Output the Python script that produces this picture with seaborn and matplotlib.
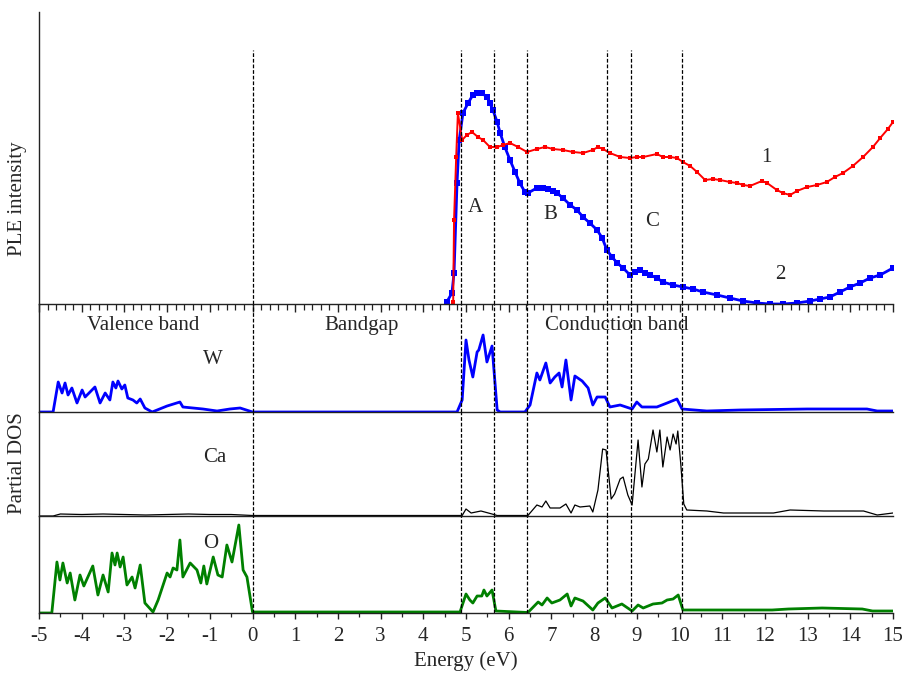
import numpy as np
import matplotlib
matplotlib.use('Agg')
import matplotlib.pyplot as plt
import seaborn as sns
from matplotlib.ticker import MultipleLocator

sns.set_style("ticks")
plt.rcParams['font.family'] = ['Liberation Serif', 'DejaVu Serif']
plt.rcParams['axes.unicode_minus'] = False

# PLE spectra (arb. units)
ple1_e = [4.70, 4.72, 4.77, 4.81, 4.91, 5.02, 5.14, 5.28, 5.40, 5.56, 5.73, 5.87, 6.03,
          6.22, 6.43, 6.66, 6.85, 7.04, 7.27, 7.51, 7.74, 7.97, 8.09, 8.21, 8.37, 8.61,
          8.84, 9.00, 9.15, 9.47, 9.61, 9.78, 9.94, 10.08, 10.25, 10.41, 10.60, 10.78,
          10.95, 11.18, 11.35, 11.49, 11.65, 11.93, 12.05, 12.28, 12.42, 12.59, 12.75,
          12.99, 13.22, 13.45, 13.64, 13.83, 14.06, 14.30, 14.53, 14.70, 14.88, 15.0]
ple1_i = [2, 84, 147, 191, 164, 169, 172, 167, 164, 157, 157, 159, 161,
          157, 152, 155, 157, 155, 154, 152, 151, 154, 157, 155, 151, 147,
          146, 147, 147, 150, 147, 147, 146, 142, 138, 132, 124, 125,
          124, 122, 121, 119, 118, 123, 121, 114, 111, 109, 113,
          117, 119, 122, 127, 131, 138, 147, 157, 166, 175, 182]
ple2_e = [4.55, 4.67, 4.72, 4.79, 4.84, 4.93, 5.05, 5.16, 5.26, 5.37, 5.49, 5.56, 5.63,
          5.73, 5.80, 5.91, 6.03, 6.15, 6.26, 6.38, 6.45, 6.66, 6.80, 6.92, 7.04, 7.13,
          7.27, 7.44, 7.60, 7.74, 7.90, 8.07, 8.19, 8.30, 8.42, 8.54, 8.68, 8.84, 8.96,
          9.07, 9.19, 9.31, 9.47, 9.61, 9.85, 10.08, 10.32, 10.55, 10.88, 11.18, 11.49,
          11.81, 12.12, 12.42, 12.75, 13.06, 13.29, 13.52, 13.76, 13.99, 14.23, 14.46,
          14.70, 15.0]
ple2_i = [2, 11, 31, 121, 164, 191, 201, 209, 211, 211, 207, 201, 194,
          182, 171, 157, 144, 132, 121, 112, 111, 116, 116, 115, 113, 111,
          106, 99, 94, 87, 81, 74, 66, 54, 47, 41, 36, 29, 32,
          34, 31, 29, 26, 22, 19, 17, 15, 12, 9, 6, 3,
          1, 0, 0, 1, 3, 5, 7, 12, 17, 21, 26,
          29, 36]

# partial DOS (arb. units)
w_e = [-5.0, -4.67, -4.55, -4.46, -4.39, -4.32, -4.23, -4.11, -3.99, -3.92, -3.69, -3.57,
       -3.45, -3.34, -3.27, -3.20, -3.15, -3.06, -2.99, -2.92, -2.80, -2.71, -2.63, -2.52,
       -2.35, -2.00, -1.70, -1.63, -1.16, -0.83, -0.53, -0.29, 0.0, 4.79, 4.91, 5.0, 5.07,
       5.16, 5.26, 5.30, 5.40, 5.49, 5.61, 5.73, 5.80, 6.38, 6.50, 6.66, 6.73, 6.87, 6.97,
       7.08, 7.18, 7.25, 7.34, 7.46, 7.55, 7.72, 7.86, 7.97, 8.07, 8.26, 8.37, 8.61, 8.89,
       9.00, 9.12, 9.47, 9.71, 9.94, 10.06, 10.64, 11.42, 12.99, 14.39, 14.63, 15.0]
w_dos = [0, 0, 30, 19, 29, 17, 24, 9, 22, 15, 25, 9,
         19, 12, 30, 24, 31, 23, 27, 14, 12, 9, 13, 4,
         0, 6, 10, 5, 3, 1, 3, 4, 0, 0, 12, 72, 52,
         35, 60, 62, 77, 50, 66, 2, 0, 0, 7, 39, 32, 49, 29,
         35, 39, 25, 52, 12, 36, 31, 24, 7, 15, 15, 5, 7, 3,
         10, 5, 5, 9, 13, 3, 1, 2, 3, 3, 1, 1]

ca_e = [-5.0, -4.67, -4.5, -4.0, -3.5, -3.0, -2.5, -2.0, -1.5, -1.0, -0.5, 0.0, 4.91,
        5.0, 5.12, 5.35, 5.61, 5.73, 6.45, 6.66, 6.78, 6.87, 6.97, 7.20, 7.34, 7.46, 7.55,
        7.67, 7.90, 7.97, 8.09, 8.20, 8.28, 8.40, 8.48, 8.61, 8.68, 8.79, 8.89, 9.03, 9.12,
        9.19, 9.27, 9.38, 9.47, 9.54, 9.61, 9.71, 9.78, 9.85, 9.92, 9.96, 10.03, 10.10,
        10.17, 10.64, 11.03, 12.20, 12.59, 13.38, 14.31, 14.63, 15.0]
ca_dos = [0, 0, 2, 1.5, 2, 1.5, 1, 1.5, 2, 1.5, 1.5, 0.5, 0.5,
          7, 3, 5, 2, 0.5, 0.5, 11, 9, 15, 8, 8, 12, 3, 11,
          9, 10, 4, 26, 67, 66, 17, 22, 37, 39, 21, 11, 76, 29,
          52, 57, 86, 64, 86, 49, 79, 66, 82, 72, 85, 52, 12,
          6, 5, 3, 3, 6, 5, 5, 1, 3]

o_e = [-5.0, -4.70, -4.58, -4.51, -4.44, -4.34, -4.27, -4.16, -4.04, -3.95, -3.74, -3.62,
       -3.50, -3.38, -3.29, -3.22, -3.17, -3.10, -3.03, -2.94, -2.82, -2.75, -2.63, -2.52,
       -2.33, -2.21, -2.00, -1.93, -1.86, -1.77, -1.70, -1.63, -1.46, -1.30, -1.21, -1.14,
       -1.07, -0.92, -0.81, -0.71, -0.60, -0.48, -0.32, -0.22, -0.13, 0.0, 4.86, 5.0, 5.09,
       5.16, 5.26, 5.37, 5.42, 5.49, 5.61, 5.70, 6.45, 6.69, 6.78, 6.90, 7.01, 7.20, 7.37,
       7.46, 7.55, 7.74, 7.97, 8.09, 8.26, 8.42, 8.65, 8.89, 9.03, 9.15, 9.38, 9.59, 9.71,
       9.85, 9.97, 10.08, 10.64, 10.99, 12.17, 12.55, 13.34, 14.28, 14.52, 15.0]
o_dos = [0, 0, 51, 33, 50, 30, 40, 13, 38, 27, 47, 18,
         38, 21, 60, 48, 60, 46, 56, 28, 36, 25, 48, 10,
         1, 13, 40, 36, 45, 43, 73, 36, 50, 43, 30, 47,
         29, 56, 38, 36, 68, 51, 88, 43, 36, 1, 1, 19, 13,
         10, 17, 17, 23, 17, 23, 2, 0.5, 11, 8, 15, 10, 13, 19,
         7, 15, 12, 3, 10, 15, 5, 9, 2, 8, 5, 9, 10, 13,
         14, 18, 3, 3, 3, 3, 4, 5, 4, 2, 2]

band_edges = [0.0, 4.88, 5.66, 6.42, 8.30, 8.86, 10.06]

fig = plt.figure(figsize=(9.02, 6.75), dpi=100)
gs = fig.add_gridspec(4, 1, height_ratios=[292, 108, 104, 97], hspace=0,
                      left=39/902, right=893/902, top=1-12/675, bottom=1-613/675)
ax_ple = fig.add_subplot(gs[0])
ax_w = fig.add_subplot(gs[1])
ax_ca = fig.add_subplot(gs[2])
ax_o = fig.add_subplot(gs[3])

# PLE
sns.lineplot(x=ple2_e, y=ple2_i, ax=ax_ple, color='blue', marker='s', markersize=4,
             markeredgewidth=0, linewidth=2.0, estimator=None)
sns.lineplot(x=ple1_e, y=ple1_i, ax=ax_ple, color='red', marker='s', markersize=3.5,
             markeredgewidth=0, linewidth=1.4, estimator=None)
ax_ple.set_ylim(0, 292)

sns.lineplot(x=w_e, y=w_dos, ax=ax_w, color='blue', linewidth=2.0, estimator=None)
sns.lineplot(x=ca_e, y=ca_dos, ax=ax_ca, color='black', linewidth=0.9, estimator=None)
sns.lineplot(x=o_e, y=o_dos, ax=ax_o, color='green', linewidth=2.0, estimator=None)
ax_w.set_ylim(0, 108)
ax_ca.set_ylim(0, 104)
ax_o.set_ylim(0, 97)

for ax in [ax_ple, ax_w, ax_ca, ax_o]:
    ax.set_xlim(-5, 15)
    ax.patch.set_visible(False)
    ax.spines['top'].set_visible(False)
    ax.spines['right'].set_visible(False)
    for s in ['left', 'bottom']:
        ax.spines[s].set_linewidth(1.0)
        ax.spines[s].set_color('#222222')
        ax.spines[s].set_zorder(5)
    ax.set_yticks([])
    ax.set_ylabel('')

ax_ple.xaxis.set_major_locator(MultipleLocator(1))
ax_ple.xaxis.set_minor_locator(MultipleLocator(0.2))
ax_ple.tick_params(axis='x', which='major', direction='out', length=6, width=1,
                   color='#222222', labelbottom=False)
ax_ple.tick_params(axis='x', which='minor', direction='out', length=4, width=0.9,
                   color='#222222')
for ax in [ax_w, ax_ca]:
    ax.tick_params(axis='x', which='both', length=0, labelbottom=False)
ax_o.set_xticks(range(-5, 16))
ax_o.set_xticklabels([str(v) for v in range(-5, 16)])
ax_o.xaxis.set_minor_locator(MultipleLocator(0.5))
ax_o.tick_params(axis='x', which='major', direction='out', length=4, width=1,
                 labelsize=15, pad=6, color='#222222')
ax_o.tick_params(axis='x', which='minor', direction='out', length=3, width=0.9,
                 color='#222222')
ax_o.set_xlabel('Energy (eV)', fontsize=15, labelpad=4)

# dashed band edges
for x in band_edges:
    ax_ple.axvline(x, ymin=0, ymax=254/292, color='black', linestyle=(0, (3, 1.5)),
                   linewidth=0.9)
    for ax in [ax_w, ax_ca, ax_o]:
        ax.axvline(x, color='black', linestyle=(0, (3, 1.5)), linewidth=0.9)

fs = 15
ax_ple.text(5.23, 97, 'A', fontsize=fs, ha='center', va='center')
ax_ple.text(6.97, 89, 'B', fontsize=fs, ha='center', va='center')
ax_ple.text(9.36, 82, 'C', fontsize=fs, ha='center', va='center')
ax_ple.text(12.03, 146, '1', fontsize=fs, ha='center', va='center')
ax_ple.text(12.36, 29, '2', fontsize=fs, ha='center', va='center')
ax_w.text(-2.56, 86, 'Valence band', fontsize=fs, ha='center', va='center')
ax_w.text(2.56, 86, 'Bandgap', fontsize=fs, ha='center', va='center')
ax_w.text(8.54, 86, 'Conduction band', fontsize=fs, ha='center', va='center')
ax_w.text(-0.93, 52, 'W', fontsize=fs, ha='center', va='center')
ax_ca.text(-0.88, 58, 'Ca', fontsize=fs, ha='center', va='center')
ax_o.text(-0.97, 70, 'O', fontsize=fs, ha='center', va='center')

fig.text(18/902, 1-199/675, 'PLE intensity', fontsize=15, rotation=90,
         ha='center', va='center')
fig.text(18/902, 1-463/675, 'Partial DOS', fontsize=15, rotation=90,
         ha='center', va='center')

fig.savefig('out.png', dpi=100)
plt.close(fig)
